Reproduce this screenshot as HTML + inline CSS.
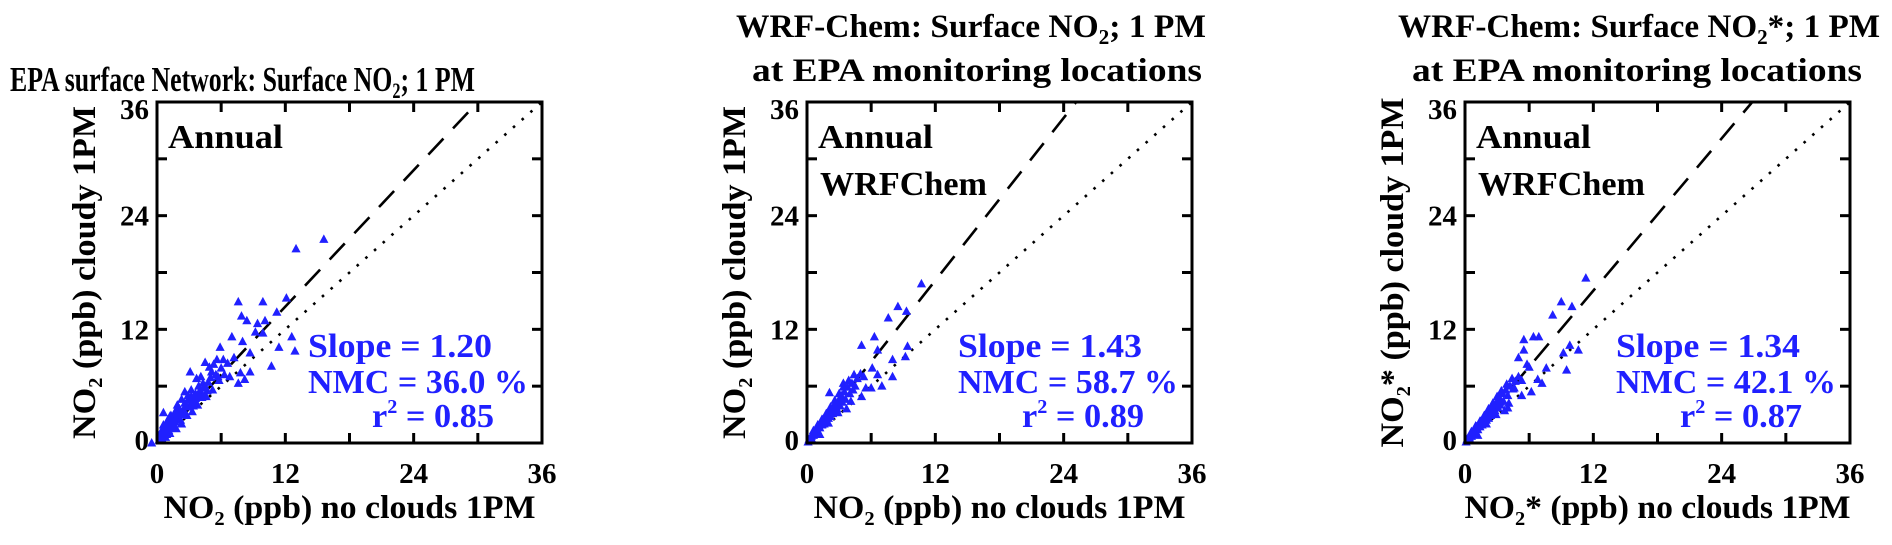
<!DOCTYPE html>
<html><head><meta charset="utf-8"><style>
html,body{margin:0;padding:0;background:#fff;}
svg{display:block;font-family:"Liberation Serif",serif;font-weight:bold;}
</style></head><body>
<svg id="chart" width="1892" height="545" viewBox="0 0 1892 545" xmlns="http://www.w3.org/2000/svg">
<rect width="1892" height="545" fill="#fff"/>
<text x="10" y="91" font-size="35" textLength="465" lengthAdjust="spacingAndGlyphs">EPA surface Network: Surface NO<tspan font-size="22" dy="7">2</tspan><tspan dy="-7">; 1 PM</tspan></text>
<text x="736" y="37" font-size="33" textLength="470" lengthAdjust="spacingAndGlyphs">WRF-Chem: Surface NO<tspan font-size="21" dy="7">2</tspan><tspan dy="-7">; 1 PM</tspan></text>
<text x="752" y="81" font-size="33" textLength="450" lengthAdjust="spacingAndGlyphs">at EPA monitoring locations</text>
<text x="1398" y="37" font-size="33" textLength="482" lengthAdjust="spacingAndGlyphs">WRF-Chem: Surface NO<tspan font-size="21" dy="7">2</tspan><tspan dy="-7">*; 1 PM</tspan></text>
<text x="1412" y="81" font-size="33" textLength="450" lengthAdjust="spacingAndGlyphs">at EPA monitoring locations</text>
</svg>
<script>
// ---- data ----
const tickValues = [0, 12, 24, 36];
const tickLabels = ["0", "12", "24", "36"];
const slopes = [1.20, 1.43, 1.34];
const slopeLabels = ["Slope = 1.20", "Slope = 1.43", "Slope = 1.34"];
const nmcLabels = ["NMC = 36.0 %", "NMC = 58.7 %", "NMC = 42.1 %"];
const r2Labels = ["0.85", "0.89", "0.87"];

const p1x = [15.6,13.0,12.1,9.9,7.6,7.9,8.4,9.4,10.1,11.2,12.6,11.4,12.9,10.7,9.2,9.9,7.0,8.0,5.9,8.7,7.8,6.8,7.6,8.2,8.7,4.5,6.2,
  -0.5,0.2,0.4,0.5,0.6,0.7,0.8,1.0,1.1,1.2,1.3,1.5,1.6,1.7,1.8,2.0,2.1,2.2,2.3,2.5,2.6,2.8,3.0,3.1,3.3,3.5,3.6,3.8,4.0,4.2,4.3,4.4,4.6,4.8,5.0,5.2,5.5,5.8,6.0,
  1.0,1.4,1.9,2.4,2.9,3.4,3.9,4.3,0.6,1.5,2.7,3.2,4.1,4.7,5.3,6.3,3.1,2.0,1.2,2.6,3.7,4.9,5.6,6.6,7.2,0.9,1.8,2.3,
  0.3,0.9,1.3,1.7,2.2,2.7,3.2,3.6,4.5,5.1,5.7,0.5,1.1,1.6,2.9,3.4,4.0];
const p1y = [21.5,20.5,15.3,14.9,14.9,13.4,12.9,12.6,12.9,13.8,11.2,10.1,9.7,8.1,11.7,11.6,11.2,10.7,10.1,9.5,7.4,7.0,6.3,6.7,7.5,8.5,8.8,
  0.0,0.3,0.8,0.4,3.2,1.2,0.6,1.6,2.5,1.0,2.0,1.8,3.0,2.2,1.5,2.8,3.6,2.4,2.0,3.4,4.2,2.9,3.8,4.6,3.3,4.4,5.2,4.0,5.5,4.8,6.3,5.8,4.9,6.4,6.9,5.6,7.2,6.6,7.9,
  2.4,1.6,4.0,3.0,5.0,3.9,6.0,5.0,1.9,2.6,4.0,5.6,7.0,5.5,8.3,7.2,7.5,3.2,2.8,5.4,6.8,8.0,8.8,8.4,9.0,0.9,3.5,4.6,
  1.0,1.9,2.9,2.6,3.3,3.9,4.9,4.7,6.0,7.5,7.0,1.4,1.3,2.3,4.5,4.3,5.0];

const p2x = [10.7,8.5,9.3,7.6,6.3,6.6,5.1,9.4,9.2,8.0,8.0,6.6,7.0,6.0,5.1,3.4,2.1,
  0.1,0.2,0.3,0.4,0.5,0.6,0.7,0.8,0.9,1.0,1.1,1.2,1.3,1.4,1.5,1.6,1.7,1.8,1.9,2.0,2.1,2.2,2.3,2.4,2.5,2.6,2.7,2.8,3.0,3.1,3.2,3.3,3.5,3.6,3.8,4.0,4.2,4.5,4.7,5.0,5.3,
  0.6,1.0,1.4,1.8,2.2,2.6,3.0,3.4,3.9,4.4,1.2,2.0,2.9,4.1,5.5,6.1,3.7,0.4,0.8,1.5,2.4,3.2,4.3];
const p2y = [16.8,14.4,13.9,13.2,11.2,9.8,10.3,10.2,9.1,8.8,7.0,7.2,6.0,5.8,4.9,6.3,5.3,
  0.1,0.4,0.3,0.7,0.9,0.8,1.2,1.0,1.5,1.3,1.8,1.6,2.1,1.9,2.4,2.0,2.7,2.3,3.0,2.6,3.3,2.8,3.5,3.1,3.9,3.4,4.2,3.6,4.5,3.9,5.0,4.3,5.4,4.6,5.9,5.2,6.3,6.0,6.8,7.3,7.0,
  1.3,1.9,2.5,3.1,3.8,4.5,5.2,5.9,6.6,7.2,0.9,2.1,3.2,4.4,5.8,7.9,3.6,0.5,1.0,2.2,3.4,4.4,5.6];

const p3x = [11.3,9.0,10.0,8.2,6.4,6.9,5.5,5.5,9.8,10.6,9.2,9.5,7.6,6.8,7.2,5.0,6.2,5.3,4.0,
  0.1,0.2,0.3,0.4,0.5,0.6,0.7,0.8,0.9,1.0,1.1,1.2,1.3,1.4,1.5,1.6,1.7,1.8,1.9,2.0,2.1,2.2,2.3,2.4,2.5,2.6,2.7,2.8,3.0,3.1,3.2,3.3,3.5,3.6,3.8,4.0,4.2,4.5,4.7,5.0,5.3,
  0.6,1.0,1.4,1.8,2.2,2.6,3.0,3.4,3.9,4.4,1.2,2.0,2.9,4.1,5.8,6.0,3.7,0.4,0.9,1.6,2.5,3.3,4.6];
const p3y = [17.4,14.9,14.4,13.5,11.2,11.2,10.9,9.8,10.3,9.8,9.5,7.7,7.9,6.7,6.3,9.0,5.4,5.0,3.7,
  0.1,0.4,0.3,0.6,0.8,0.7,1.1,0.9,1.4,1.2,1.7,1.4,2.0,1.7,2.3,1.9,2.6,2.1,2.9,2.4,3.2,2.6,3.4,2.9,3.8,3.2,4.1,3.4,4.3,3.7,4.8,4.0,5.2,4.4,5.6,5.0,6.0,5.7,6.5,7.0,6.6,
  1.2,1.8,2.3,2.9,3.6,4.2,4.9,5.5,6.2,6.8,0.8,2.0,3.0,4.2,8.3,8.0,3.4,0.5,1.1,2.1,3.3,4.3,5.8];

const panelXs = [p1x, p2x, p3x];
const panelYs = [p1y, p2y, p3y];

// ---- layout ----
const svg = document.getElementById('chart');
const NS = 'http://www.w3.org/2000/svg';
const lefts = [157, 807, 1465];
const W = 385, TOP = 102, BOT = 443, H = BOT - TOP, VMAX = 36;
const BLUE = '#2020ff';
const xTitles = [['NO', '2', ' (ppb) no clouds 1PM'], ['NO', '2', ' (ppb) no clouds 1PM'], ['NO', '2', '* (ppb) no clouds 1PM']];
const yTitles = [['NO', '2', ' (ppb) cloudy 1PM'], ['NO', '2', ' (ppb) cloudy 1PM'], ['NO', '2', '* (ppb) cloudy 1PM']];
const xTitleLens = [372, 372, 386];
const yTitleLens = [333, 333, 350];

function mk(tag, attrs, name, parent) {
  const el = document.createElementNS(NS, tag);
  for (const k in attrs) el.setAttribute(k, attrs[k]);
  
  
  (parent || svg).appendChild(el);
  return el;
}
function subText(parts, attrs, name) {
  const t = mk('text', attrs, name);
  t.appendChild(document.createTextNode(parts[0]));
  const s = document.createElementNS(NS, 'tspan');
  s.setAttribute('font-size', '20'); s.setAttribute('dy', '7');
  s.textContent = parts[1]; t.appendChild(s);
  const r = document.createElementNS(NS, 'tspan');
  r.setAttribute('dy', '-7'); r.textContent = parts[2]; t.appendChild(r);
  return t;
}

for (let p = 0; p < 3; p++) {
  const L = lefts[p];
  const sx = v => L + v / VMAX * W;
  const sy = v => BOT - v / VMAX * H;
  const g = mk('g', {}, 'panel-' + (p + 1));

  mk('line', {x1: sx(0), y1: sy(0), x2: sx(36), y2: sy(36), stroke: '#000', 'stroke-width': 2.6, 'stroke-dasharray': '2.6 9', fill: 'none'}, 'one-to-one-line', g);
  const xe = Math.min(36, 36 / slopes[p]);
  mk('line', {x1: sx(0), y1: sy(0), x2: sx(xe), y2: sy(xe * slopes[p]), stroke: '#000', 'stroke-width': 2.6, 'stroke-dasharray': '22 14', fill: 'none'}, 'regression-line', g);

  const xs = panelXs[p], ys = panelYs[p];
  for (let i = 0; i < xs.length; i++) {
    const cx = sx(xs[i]), cy = sy(ys[i]);
    mk('polygon', {points: `${cx},${cy - 5} ${cx - 4.6},${cy + 3.5} ${cx + 4.6},${cy + 3.5}`, fill: BLUE}, 'data-point', g);
  }

  mk('rect', {x: L, y: TOP, width: W, height: H, fill: 'none', stroke: '#000', 'stroke-width': 3}, 'plot-frame', g);
  for (let v = 6; v < 36; v += 6) {
    mk('line', {x1: sx(v), y1: BOT, x2: sx(v), y2: BOT - 10, stroke: '#000', 'stroke-width': 3}, 'x-tick', g);
    mk('line', {x1: sx(v), y1: TOP, x2: sx(v), y2: TOP + 10, stroke: '#000', 'stroke-width': 3}, 'x-tick-top', g);
    mk('line', {x1: L, y1: sy(v), x2: L + 10, y2: sy(v), stroke: '#000', 'stroke-width': 3}, 'y-tick', g);
    mk('line', {x1: L + W, y1: sy(v), x2: L + W - 10, y2: sy(v), stroke: '#000', 'stroke-width': 3}, 'y-tick-right', g);
  }
  for (let i = 0; i < tickValues.length; i++) {
    const xl = mk('text', {x: sx(tickValues[i]), y: 483, 'font-size': 29, 'text-anchor': 'middle'}, 'x-tick-label', g);
    xl.textContent = tickLabels[i];
    const by = Math.max(TOP + 17, Math.min(BOT + 7, sy(tickValues[i]) + 10));
    const yl = mk('text', {x: L - 8, y: by, 'font-size': 29, 'text-anchor': 'end'}, 'y-tick-label', g);
    yl.textContent = tickLabels[i];
  }
  subText(xTitles[p], {x: L + W / 2, y: 518, 'font-size': 33, 'text-anchor': 'middle', textLength: xTitleLens[p], lengthAdjust: 'spacingAndGlyphs'}, 'x-axis-title');
  const yx = L - 62, yc = (TOP + BOT) / 2;
  subText(yTitles[p], {x: yx, y: yc, transform: `rotate(-90 ${yx} ${yc})`, 'font-size': 33, 'text-anchor': 'middle', textLength: yTitleLens[p], lengthAdjust: 'spacingAndGlyphs'}, 'y-axis-title');

  const a = mk('text', {x: L + 11, y: 148, 'font-size': 34, textLength: 115, lengthAdjust: 'spacingAndGlyphs'}, 'annual-label', g);
  a.textContent = 'Annual';
  if (p > 0) {
    const w = mk('text', {x: L + 13, y: 195, 'font-size': 34, textLength: 167, lengthAdjust: 'spacingAndGlyphs'}, 'wrfchem-label', g);
    w.textContent = 'WRFChem';
  }
  const s1 = mk('text', {x: L + 151, y: 357, 'font-size': 34, fill: BLUE, textLength: 184, lengthAdjust: 'spacingAndGlyphs'}, 'slope-stat', g);
  s1.textContent = slopeLabels[p];
  const s2 = mk('text', {x: L + 151, y: 393, 'font-size': 34, fill: BLUE, textLength: 220, lengthAdjust: 'spacingAndGlyphs'}, 'nmc-stat', g);
  s2.textContent = nmcLabels[p];
  const s3 = mk('text', {x: L + 215, y: 427, 'font-size': 34, fill: BLUE, textLength: 122, lengthAdjust: 'spacingAndGlyphs'}, 'r2-stat', g);
  s3.textContent = 'r';
  const sup = document.createElementNS(NS, 'tspan');
  sup.setAttribute('font-size', '20'); sup.setAttribute('dy', '-14'); sup.textContent = '2';
  s3.appendChild(sup);
  const rest = document.createElementNS(NS, 'tspan');
  rest.setAttribute('dy', '14'); rest.textContent = ' = ' + r2Labels[p];
  s3.appendChild(rest);
}
</script>
</body></html>
